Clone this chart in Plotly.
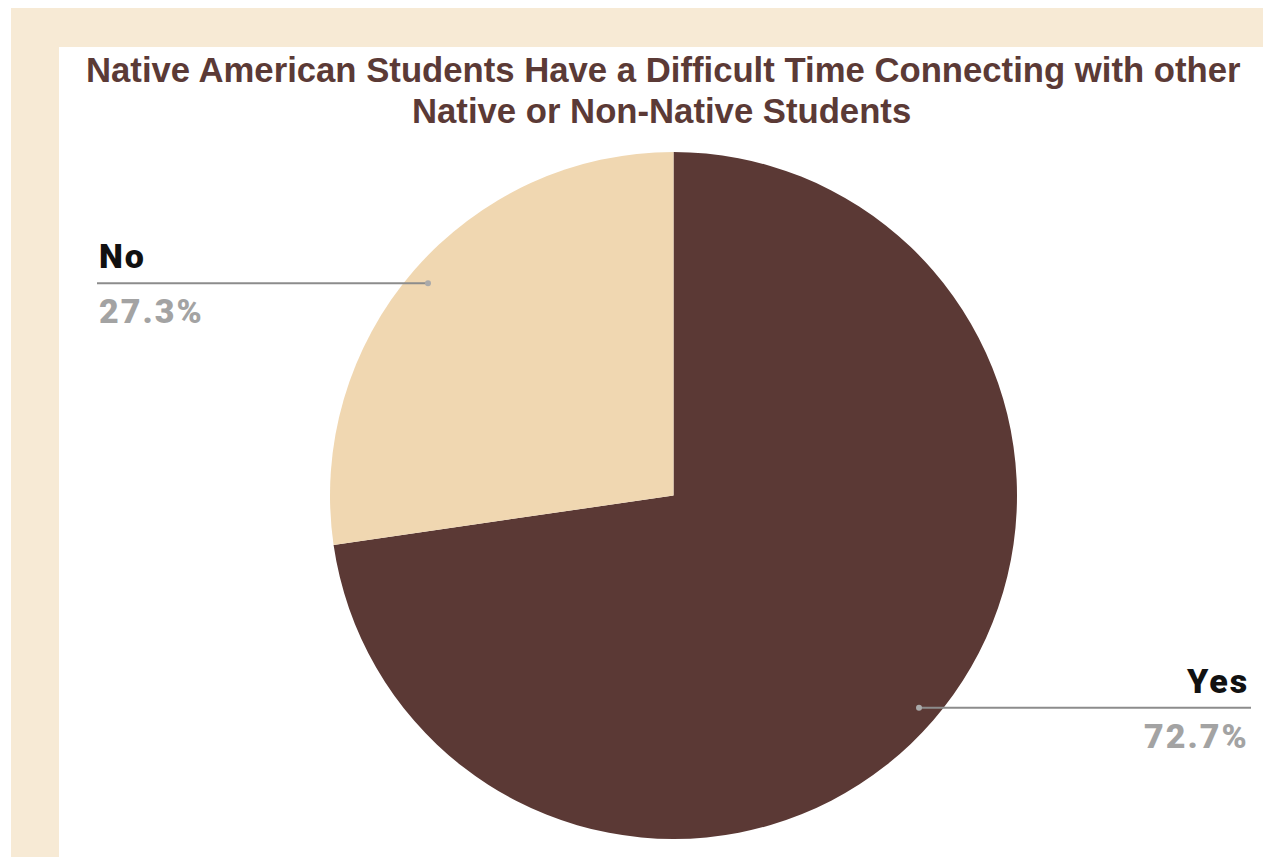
import math
import plotly.graph_objects as go

# ---- data ----
labels = ["Yes", "No"]
values = [72.7, 27.3]
pct_text = ["72.7%", "27.3%"]
slice_colors = ["#5b3935", "#f0d7b1"]
title_lines = [
    "Native American Students Have a Difficult Time Connecting with other",
    "Native or Non-Native Students",
]

W, H = 1263, 857
BEIGE = "#f7ead5"
TITLE_COLOR = "#5b3a36"

# pie geometry (pixels)
cx, cy, R = 673.5, 495.5, 343.5
dom_x = [(cx - R) / W, (cx + R) / W]
dom_y = [1 - (cy + R) / H, 1 - (cy - R) / H]

fig = go.Figure(
    go.Pie(
        labels=labels,
        values=values,
        sort=False,
        direction="clockwise",
        rotation=0,
        marker=dict(colors=slice_colors, line=dict(width=0)),
        textinfo="none",
        hoverinfo="label+percent",
        showlegend=False,
        domain=dict(x=dom_x, y=dom_y),
    )
)

def px(x):
    return x / W

def py(y):
    return 1 - y / H

shapes = [
    # beige frame (top bar + left strip)
    dict(type="rect", xref="paper", yref="paper", x0=px(11), x1=px(W), y0=py(47), y1=py(8),
         fillcolor=BEIGE, line=dict(width=0), layer="below"),
    dict(type="rect", xref="paper", yref="paper", x0=px(11), x1=px(59), y0=py(H), y1=py(8),
         fillcolor=BEIGE, line=dict(width=0), layer="below"),
]
annotations = []

# title
annotations.append(dict(text="<b>%s</b>" % title_lines[0], x=px(663.5), y=py(70), xref="paper", yref="paper",
                        xanchor="center", yanchor="middle", showarrow=False,
                        font=dict(family="Liberation Sans", size=34.7, color=TITLE_COLOR)))
annotations.append(dict(text="<b>%s</b>" % title_lines[1], x=px(661.5), y=py(111), xref="paper", yref="paper",
                        xanchor="center", yanchor="middle", showarrow=False,
                        font=dict(family="Liberation Sans", size=34.7, color=TITLE_COLOR)))

# leader lines and labels computed from slice angles
total = sum(values)
cum = 0.0
label_ends = {"Yes": 1251, "No": 97}
for lab, v, pt in zip(labels, values, pct_text):
    mid = (cum + v / 2) / total * 2 * math.pi
    cum += v
    ax = cx + 0.945 * R * math.sin(mid)
    ay = cy - 0.945 * R * math.cos(mid)
    xe = label_ends[lab]
    shapes.append(dict(type="line", xref="paper", yref="paper", x0=px(ax), x1=px(xe), y0=py(ay), y1=py(ay),
                       line=dict(color="#8c8c8c", width=2), layer="above"))
    shapes.append(dict(type="circle", xref="paper", yref="paper", x0=px(ax - 3), x1=px(ax + 3),
                       y0=py(ay + 3), y1=py(ay - 3), fillcolor="#aaaaaa", line=dict(width=0), layer="above"))
    right = xe > ax
    anchor = "right" if right else "left"
    annotations.append(dict(text="<span style='letter-spacing:2px'>%s</span>" % lab,
                            x=px(xe), y=py(ay - 27), xref="paper", yref="paper",
                            xanchor=anchor, yanchor="middle", showarrow=False,
                            font=dict(family="Roboto", size=34, weight=900, color="#111111")))
    annotations.append(dict(text="<span style='letter-spacing:2px'>%s</span>" % pt,
                            x=px(xe), y=py(ay + 28), xref="paper", yref="paper",
                            xanchor=anchor, yanchor="middle", showarrow=False,
                            font=dict(family="Roboto", size=34, weight=900, color="#a3a3a3")))

fig.update_layout(
    width=W, height=H,
    margin=dict(l=0, r=0, t=0, b=0),
    paper_bgcolor="white",
    plot_bgcolor="white",
    shapes=shapes,
    annotations=annotations,
)

fig.write_html("out.html")
